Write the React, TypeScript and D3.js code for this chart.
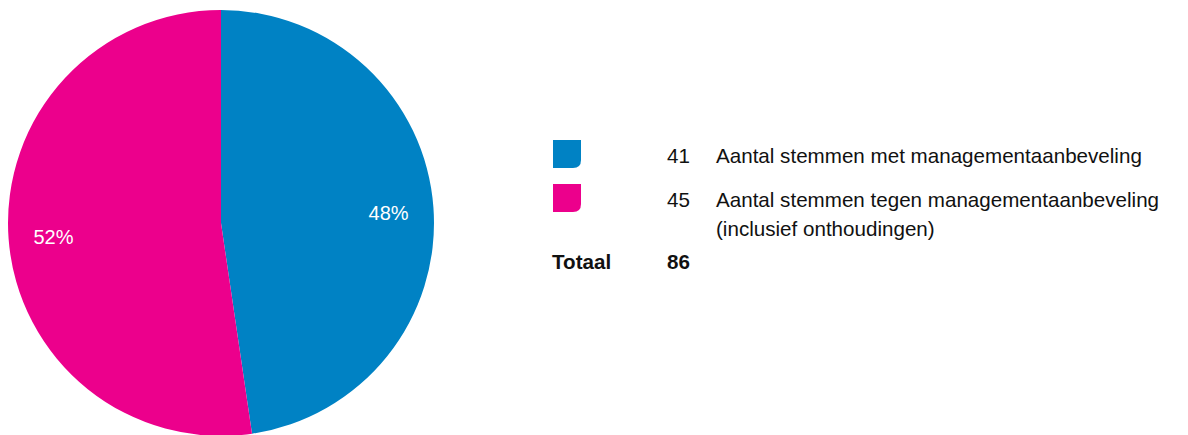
import React from "react";
import * as d3 from "d3";

const categories = ["Aantal stemmen met managementaanbeveling", "Aantal stemmen tegen managementaanbeveling"];
const categorySecondLine = ["", "(inclusief onthoudingen)"];
const values = [41, 45];
const colors = ["#0082c4", "#ec008c"];
const totalLabel = "Totaal";

export default function App() {
  const W = 1188, H = 435;
  const cx = 221, cy = 223, R = 213;
  const total = d3.sum(values);
  const pie = d3.pie<number>().sort(null).value((d) => d)(values);
  const arc = d3.arc<d3.PieArcDatum<number>>().innerRadius(0).outerRadius(R);
  const labelArc = d3.arc<d3.PieArcDatum<number>>().innerRadius(168).outerRadius(168);
  const font = "'Liberation Sans', Arial, sans-serif";
  const fs = 20.6;
  const legendY = d3.scaleBand<number>().domain(values.map((_, i) => i)).range([140, 228]).paddingInner(0);
  const swatch = 28, rr = 8;
  const swatchPath = (x: number, y: number) =>
    `M${x},${y}H${x + swatch}V${y + swatch - rr}Q${x + swatch},${y + swatch} ${x + swatch - rr},${y + swatch}H${x}Z`;
  return (
    <svg width={W} height={H} style={{ position: "absolute", left: 0, top: 0, background: "#fff" }} fontFamily={font}>
      <g transform={`translate(${cx},${cy})`}>
        {pie.map((p, i) => (
          <path key={i} d={arc(p) || ""} fill={colors[i]} />
        ))}
        {pie.map((p, i) => {
          const [x, y] = labelArc.centroid(p);
          return (
            <text key={"l" + i} x={x} y={y + 2} textAnchor="middle" dominantBaseline="central" fill="#fff" fontSize={20}>
              {Math.round((p.data / total) * 100)}%
            </text>
          );
        })}
      </g>
      {values.map((v, i) => {
        const y = legendY(i)!;
        return (
          <g key={"lg" + i}>
            <path d={swatchPath(553, y)} fill={colors[i]} />
            <text x={690} y={y + 23} textAnchor="end" fontSize={fs} fill="#111">{v}</text>
            <text x={716} y={y + 23} fontSize={fs} fill="#111">{categories[i]}</text>
            {categorySecondLine[i] && (
              <text x={716} y={y + 52} fontSize={fs} fill="#111">{categorySecondLine[i]}</text>
            )}
          </g>
        );
      })}
      <text x={552} y={269} fontSize={fs} fontWeight="bold" fill="#111">{totalLabel}</text>
      <text x={690} y={269} textAnchor="end" fontSize={fs} fontWeight="bold" fill="#111">{total}</text>
    </svg>
  );
}
